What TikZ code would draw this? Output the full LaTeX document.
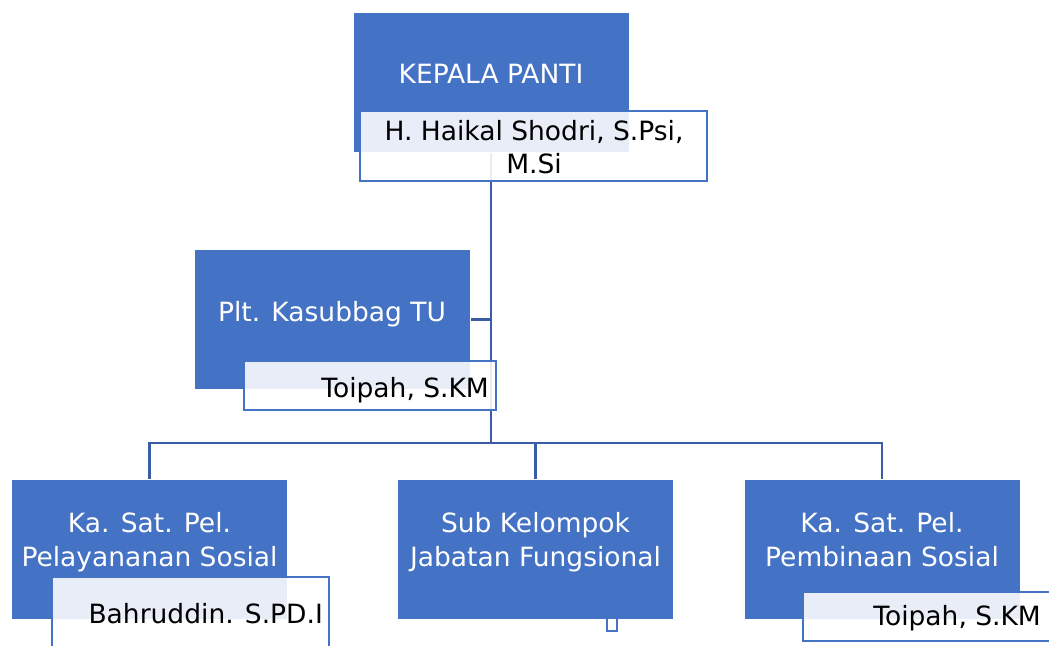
\documentclass[tikz,border=0pt]{standalone}
\usepackage{fontspec}
\setmainfont{DejaVu Sans}
\usepackage{xcolor}
\usetikzlibrary{backgrounds}
\definecolor{boxblue}{HTML}{4472C4}
\definecolor{linkblue}{HTML}{3A5DA6}

\begin{document}
\begin{tikzpicture}[x=1pt, y=-1pt,
  box/.style={rectangle, draw=white, line width=0.8pt, fill=boxblue, minimum width=276, minimum height=140, inner sep=0},
  person box/.style={rectangle, draw=boxblue, line width=2pt, fill=white, fill opacity=0.88, inner sep=0},
  unit text/.style={text=white, font=\fontsize{26.5}{34}\selectfont, align=center},
  person text/.style={text=black, font=\fontsize{26.5}{33}\selectfont, align=center, inner sep=0},
  link/.style={color=linkblue, line width=2.6pt},
  hv/.style={to path={-| (\tikztotarget)}}]

\useasboundingbox (0,0) rectangle (1049,645);
\clip (0,0) rectangle (1049,645);

                \node[box]  (kepala) at (491,82) {};
                \node[box]  (kasubbag) at (332,319.5) {};
                \node[box]  (yansos) at (149.5,549) {};
                \node[box]  (jafung) at (535.5,549) {};
                \node[box]  (binsos) at (882,549) {};

                \node[person box, minimum width=347, minimum height=70]  (kepalaN) at (533.5,146) {};
                \node[person box, minimum width=252, minimum height=49]  (kasubbagN) at (370,385.5) {};
                \node[person box, minimum width=277, minimum height=70]  (yansosN) at (190.5,612) {};
                \node[person box, minimum width=10, minimum height=13]  (jafungN) at (612,624.5) {};
                \node[person box, minimum width=277, minimum height=49]  (binsosN) at (941.5,616.5) {};

                \node[unit text, anchor=base]  (kepalaT) at (491,83) {KEPALA PANTI};
                \node[unit text, anchor=base]  (kasubbagT) at (332,321) {Plt. Kasubbag TU};
                \node[unit text]  (yansosT) at (149.5,543) {\strut Ka. Sat. Pel.\\\strut Pelayananan Sosial};
                \node[unit text]  (jafungT) at (535.5,543) {\strut Sub Kelompok\\\strut Jabatan Fungsional};
                \node[unit text]  (binsosT) at (882,543) {\strut Ka. Sat. Pel.\\\strut Pembinaan Sosial};

                \node[person text]  (kepalaNT) at (534,150) {\strut H. Haikal Shodri, S.Psi,\\\strut M.Si};
                \node[person text, anchor=base east]  (kasubbagNT) at (489,397) {Toipah, S.KM};
                \node[person text, anchor=base east]  (yansosNT) at (323,623) {Bahruddin. S.PD.I};
                \node[person text, anchor=base east]  (binsosNT) at (1041,625) {Toipah, S.KM};

                \coordinate (bus) at (491,443);

            \begin{scope}[on background layer]
                \path[link]

                (kepala.south) edge (bus)
                (kasubbag.east) edge (kasubbag.east -| bus)
                (bus) edge[hv] (yansos.north)
                (bus) edge[hv] (jafung.north)
                (bus) edge[hv] (binsos.north)
            ;
            \end{scope}
            \end{tikzpicture}
\end{document}
